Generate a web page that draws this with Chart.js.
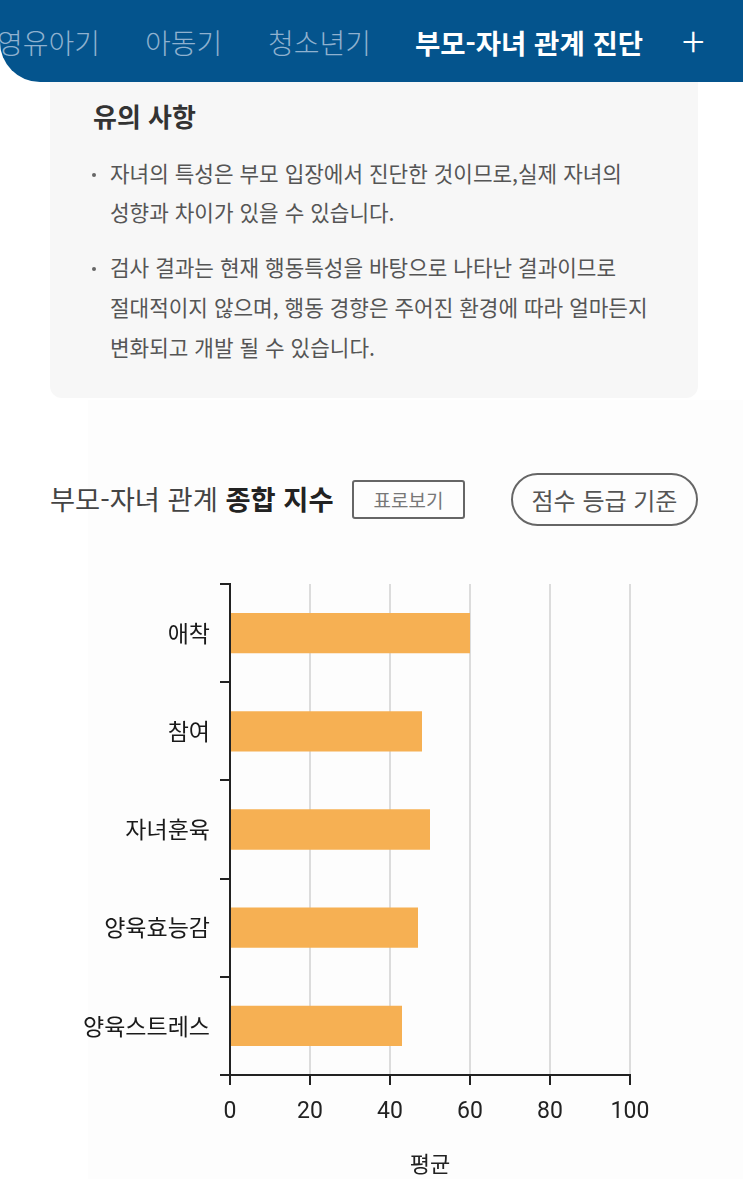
<!DOCTYPE html>
<html lang="ko">
<head>
<meta charset="utf-8">
<script src="https://cdn.jsdelivr.net/npm/chart.js@4/dist/chart.umd.min.js"></script>
<style>
  html, body { margin: 0; padding: 0; }
  body { width: 743px; height: 1179px; overflow: hidden; background: #fff; position: relative;
         font-family: "Noto Sans CJK KR", "Noto Sans", sans-serif; }
  .abs { position: absolute; white-space: nowrap; }
  #header { left: 0; top: 0; width: 743px; height: 82px; background: #04548d; border-bottom-left-radius: 40px; }
  .tab { top: 22px; font-size: 28px; line-height: 40px; color: #8fb1cf; font-weight: 300; }
  .tab.on { color: #fff; font-weight: 700; font-size: 27.5px; }
  #notice { left: 50px; top: 60px; width: 648px; height: 338px; background: #f7f7f7; border-radius: 12px; }
  .ntitle { left: 93px; top: 97px; font-size: 26px; line-height: 38px; font-weight: 700; color: #333; }
  .nline { left: 110px; font-size: 21.3px; line-height: 30px; color: #555; }
  .dot { left: 92px; width: 4px; height: 4px; border-radius: 2px; background: #666; }
  #panel { left: 88px; top: 400px; width: 655px; height: 779px; background: #fdfdfd; }
  .ttl { left: 50px; top: 479px; font-size: 27.3px; line-height: 38px; color: #444; }
  .ttl b { color: #222; }
  #btn1 { left: 352px; top: 480px; width: 109px; height: 35px; border: 2px solid #666; border-radius: 3px;
          font-size: 19px; line-height: 35px; text-align: center; color: #777; }
  #btn2 { left: 511px; top: 473px; width: 183px; height: 49px; border: 2px solid #666; border-radius: 27px;
          font-size: 24px; line-height: 49px; text-align: center; color: #555; }
  #wrap { position: absolute; left: 0; top: 560px; width: 743px; height: 619px; }
</style>
</head>
<body>
<div id="panel" class="abs"></div>
<div id="notice" class="abs"></div>
<div class="abs ntitle">유의 사항</div>
<div class="abs dot" style="top:173px"></div>
<div class="abs nline" style="top:158px">자녀의 특성은 부모 입장에서 진단한 것이므로,실제 자녀의</div>
<div class="abs nline" style="top:197px">성향과 차이가 있을 수 있습니다.</div>
<div class="abs dot" style="top:267px"></div>
<div class="abs nline" style="top:252px">검사 결과는 현재 행동특성을 바탕으로 나타난 결과이므로</div>
<div class="abs nline" style="top:292px">절대적이지 않으며, 행동 경향은 주어진 환경에 따라 얼마든지</div>
<div class="abs nline" style="top:332px">변화되고 개발 될 수 있습니다.</div>

<div id="header" class="abs"></div>
<div class="abs tab" style="left:-3px">영유아기</div>
<div class="abs tab" style="left:145px">아동기</div>
<div class="abs tab" style="left:268px">청소년기</div>
<div class="abs tab on" style="left:415px">부모-자녀 관계 진단</div>
<div class="abs tab" style="left:682px;color:#fff;font-size:42px;font-weight:200;top:19px">+</div>

<div class="abs ttl">부모-자녀 관계 <b>종합 지수</b></div>
<div id="btn1" class="abs">표로보기</div>
<div id="btn2" class="abs">점수 등급 기준</div>

<div id="wrap"><canvas id="chartCanvas"></canvas></div>

<script>
const categories = ['애착', '참여', '자녀훈육', '양육효능감', '양육스트레스'];
const averages = [60, 48, 50, 47, 43];
const xTicks = [0, 20, 40, 60, 80, 100];
const xTitle = '평균';

const ctx = document.getElementById('chartCanvas').getContext('2d');

new Chart(ctx, {
    type: 'bar',
    data: {
        labels: categories,
        datasets: [{ label: xTitle, data: averages, backgroundColor: '#f6b053', borderWidth: 0 }]
    },
    options: {
        indexAxis: 'y',
        responsive: true,
        maintainAspectRatio: false,
        animation: false,
        layout: { padding: { top: 24, left: 80, right: 113, bottom: 0 } },
        categoryPercentage: 1,
        barPercentage: 0.41,
        plugins: { legend: { display: false }, tooltip: { enabled: false } },
        scales: {
            x: {
                min: 0, max: 100,
                afterBuildTicks: s => { s.ticks = xTicks.map(v => ({ value: v })); },
                afterFit: s => { s.height = 104; },
                grid: { color: '#dcdcdc', lineWidth: 2, tickColor: '#222', tickLength: 10 },
                border: { color: '#222', width: 2 },
                ticks: { color: '#222', padding: 13, font: { family: 'Roboto', size: 23 } },
                title: { display: true, text: xTitle, color: '#222', padding: { top: 0, bottom: 2 },
                         font: { family: '"Noto Sans CJK KR"', size: 22 } }
            },
            y: {
                afterFit: s => { s.width = 150; },
                grid: { drawOnChartArea: false, color: '#222', lineWidth: 2, tickLength: 10 },
                border: { color: '#222', width: 2 },
                ticks: { color: '#1a1a1a', padding: 10, font: { family: '"Noto Sans CJK KR"', size: 23 } }
            }
        }
    }
});
</script>
</body>
</html>
